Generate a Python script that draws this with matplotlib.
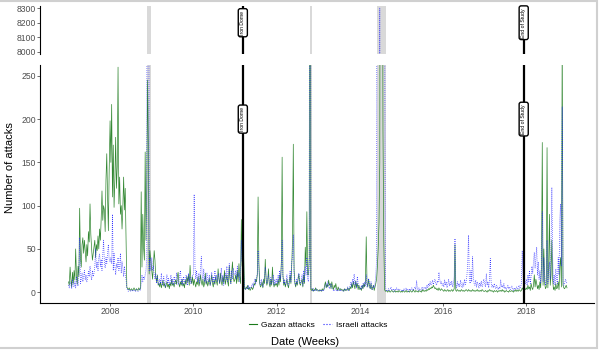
import numpy as np
import pandas as pd
import matplotlib
matplotlib.use("Agg")
import matplotlib.pyplot as plt
import matplotlib.dates as mdates
from matplotlib.lines import Line2D
from matplotlib.patches import Rectangle

plt.rcParams['font.family'] = ['Liberation Sans', 'DejaVu Sans']

# weekly attack counts, 52 weeks per year
gazan_2007 = [12, 8, 29, 15, 6, 23, 10, 25, 14, 50,
              20, 9, 30, 18, 97, 40, 29, 55, 63, 45,
              60, 48, 35, 55, 42, 70, 58, 102, 67, 50,
              37, 45, 52, 60, 40, 55, 48, 65, 50, 73,
              60, 85, 117, 83, 100, 95, 70, 130, 160, 110, 71, 140]
gazan_2008 = [198, 150, 217, 110, 170, 98, 130, 179, 120, 145,
              260, 102, 133, 90, 100, 73, 98, 133, 95, 120,
              60, 6, 4, 3, 5, 2, 3, 4, 2, 3,
              5, 3, 2, 4, 3, 2, 5, 3, 4, 116,
              29, 90, 52, 37, 162, 60, 120, 245, 170, 21, 48, 37]
gazan_2009 = [25, 15, 30, 48, 37, 17, 12, 20, 8, 10,
              6, 12, 5, 9, 14, 7, 10, 5, 8, 12,
              6, 9, 4, 11, 7, 15, 8, 10, 6, 12,
              14, 9, 18, 23, 10, 6, 12, 8, 15, 7,
              10, 5, 14, 9, 18, 12, 20, 8, 31, 14, 10, 18]
gazan_2010 = [8, 15, 10, 6, 12, 9, 18, 7, 11, 20,
              12, 8, 15, 6, 10, 22, 9, 13, 7, 11,
              16, 8, 12, 20, 10, 6, 14, 9, 18, 12,
              8, 27, 15, 10, 22, 12, 8, 18, 11, 25,
              9, 14, 20, 12, 7, 30, 15, 10, 22, 35, 18, 12]
gazan_2011 = [15, 20, 10, 25, 12, 33, 18, 10, 84, 30,
              190, 40, 5, 3, 6, 4, 8, 3, 5, 2,
              4, 6, 3, 5, 10, 8, 15, 12, 20, 110,
              35, 10, 6, 8, 12, 5, 15, 10, 38, 15,
              8, 12, 27, 10, 6, 15, 8, 29, 12, 6, 10, 8]
gazan_2012 = [10, 6, 15, 8, 20, 12, 35, 156, 20, 8,
              12, 6, 10, 15, 8, 5, 12, 20, 10, 30,
              60, 171, 25, 10, 6, 12, 8, 15, 21, 10,
              8, 12, 15, 6, 20, 10, 52, 30, 93, 20,
              20, 40, 1200, 3, 2, 4, 1, 3, 2, 5, 2, 3]
gazan_2013 = [2, 1, 3, 2, 1, 4, 2, 3, 8, 12,
              5, 9, 6, 14, 8, 10, 4, 12, 6, 3,
              8, 5, 10, 4, 2, 6, 3, 2, 4, 3,
              2, 3, 1, 4, 2, 3, 2, 5, 3, 2,
              6, 4, 10, 5, 12, 8, 4, 13, 6, 10, 3, 8]
gazan_2014 = [3, 5, 2, 8, 4, 10, 6, 12, 64, 10,
              6, 15, 8, 4, 10, 3, 5, 8, 2, 6,
              10, 15, 30, 50, 80, 150, 900, 1800, 700, 187,
              60, 3, 1, 2, 1, 0, 2, 1, 0, 1,
              2, 1, 0, 1, 2, 0, 1, 1, 0, 2, 1, 0]
gazan_2015 = [1, 0, 2, 1, 0, 1, 2, 0, 1, 1,
              0, 2, 1, 0, 1, 3, 1, 0, 2, 1,
              1, 0, 2, 1, 1, 0, 3, 1, 2, 1,
              2, 1, 3, 2, 4, 3, 5, 4, 6, 5,
              8, 6, 4, 5, 3, 4, 2, 5, 3, 2, 4, 3]
gazan_2016 = [2, 1, 3, 2, 1, 2, 3, 1, 2, 1,
              2, 3, 1, 2, 4, 55, 2, 1, 3, 2,
              1, 2, 1, 3, 2, 1, 2, 1, 2, 3,
              2, 1, 3, 2, 1, 2, 1, 3, 2, 1,
              2, 1, 2, 3, 1, 2, 1, 2, 1, 3, 2, 1]
gazan_2017 = [1, 2, 1, 0, 2, 1, 3, 2, 1, 2,
              1, 0, 2, 1, 1, 2, 0, 1, 2, 1,
              2, 1, 3, 1, 2, 0, 1, 2, 1, 1,
              0, 2, 1, 1, 2, 1, 0, 2, 1, 3,
              1, 2, 1, 3, 2, 1, 2, 5, 3, 2, 4, 3]
gazan_2018 = [5, 3, 8, 4, 6, 2, 10, 5, 3, 8,
              20, 6, 15, 10, 4, 8, 3, 12, 5, 30,
              173, 8, 50, 10, 4, 6, 167, 5, 30, 90,
              8, 20, 60, 15, 3, 6, 2, 10, 4, 5,
              12, 3, 30, 40, 6, 300, 8, 5, 4, 6, 8, 5]

israeli_2007 = [8, 5, 12, 10, 4, 15, 8, 6, 12, 5,
                18, 10, 7, 20, 63, 10, 15, 22, 12, 18,
                25, 14, 20, 12, 16, 24, 18, 30, 20, 14,
                25, 18, 22, 30, 50, 28, 35, 25, 40, 44,
                30, 38, 25, 44, 60, 35, 28, 40, 33, 45, 55, 38]
israeli_2008 = [35, 40, 33, 90, 25, 45, 30, 20, 33, 28,
                40, 25, 30, 45, 22, 35, 28, 18, 30, 20,
                15, 5, 2, 1, 3, 2, 1, 2, 3, 1,
                2, 2, 1, 3, 2, 1, 2, 3, 2, 10,
                20, 12, 18, 15, 20, 25, 40, 1500, 900, 25, 40, 25]
israeli_2009 = [40, 25, 30, 20, 15, 22, 10, 18, 12, 8,
                15, 10, 22, 8, 12, 18, 10, 6, 14, 20,
                10, 16, 8, 12, 20, 10, 15, 8, 18, 12,
                10, 22, 15, 8, 12, 20, 25, 10, 15, 8,
                18, 12, 10, 20, 15, 8, 22, 12, 18, 10, 15, 20]
israeli_2010 = [20, 113, 30, 15, 25, 12, 18, 22, 10, 28,
                41, 20, 15, 27, 12, 18, 10, 22, 15, 12,
                20, 8, 15, 23, 12, 18, 10, 25, 14, 20,
                12, 18, 22, 10, 15, 28, 12, 20, 8, 15,
                22, 15, 30, 12, 20, 33, 18, 10, 25, 15, 28, 20]
israeli_2011 = [20, 25, 15, 30, 18, 22, 12, 28, 60, 35,
                115, 20, 5, 3, 4, 6, 3, 8, 4, 6,
                5, 8, 10, 6, 12, 15, 10, 18, 20, 48,
                25, 12, 8, 15, 10, 6, 12, 18, 29, 20,
                10, 15, 20, 12, 8, 17, 10, 12, 20, 8, 15, 10]
israeli_2012 = [15, 10, 20, 12, 25, 15, 30, 60, 18, 10,
                15, 8, 12, 20, 10, 8, 15, 25, 12, 35,
                40, 66, 20, 12, 8, 15, 10, 18, 22, 12,
                10, 15, 20, 8, 25, 12, 30, 20, 40, 15,
                12, 30, 1500, 5, 3, 2, 4, 1, 3, 2, 4, 2]
israeli_2013 = [1, 2, 1, 3, 2, 1, 3, 2, 5, 8,
                10, 6, 12, 8, 4, 7, 10, 5, 3, 2,
                3, 2, 4, 2, 1, 3, 2, 4, 2, 3,
                2, 1, 3, 2, 4, 2, 3, 6, 2, 4,
                8, 12, 6, 15, 10, 21, 8, 12, 5, 18, 10, 6]
israeli_2014 = [5, 3, 8, 4, 10, 6, 12, 8, 20, 6,
                10, 16, 8, 4, 12, 6, 3, 8, 5, 10,
                20, 37, 1200, 3000, 5000, 8300, 4000, 2500, 1500, 1000,
                700, 400, 5, 3, 1, 2, 4, 2, 3, 6,
                3, 2, 4, 1, 3, 2, 5, 3, 2, 4, 3, 2]
israeli_2015 = [2, 3, 1, 4, 2, 3, 5, 2, 3, 1,
                4, 2, 3, 5, 2, 3, 4, 6, 3, 13,
                4, 2, 5, 3, 2, 4, 6, 3, 5, 4,
                6, 3, 8, 5, 10, 7, 12, 8, 10, 14,
                9, 12, 15, 10, 8, 13, 11, 23, 15, 10, 12, 8]
israeli_2016 = [10, 6, 14, 8, 12, 5, 9, 15, 7, 11,
                8, 13, 6, 10, 18, 62, 9, 5, 12, 7,
                10, 6, 14, 8, 5, 11, 7, 15, 9, 12,
                20, 35, 66, 15, 10, 25, 12, 41, 18, 10,
                8, 14, 6, 12, 9, 5, 11, 7, 13, 6, 9, 15]
israeli_2017 = [10, 6, 21, 8, 12, 5, 15, 39, 12, 6,
                8, 5, 10, 6, 4, 8, 5, 3, 6, 4,
                14, 6, 8, 5, 10, 4, 6, 3, 5, 8,
                4, 6, 3, 5, 7, 4, 2, 5, 3, 4,
                6, 3, 5, 8, 4, 6, 10, 48, 20, 8, 12, 10]
israeli_2018 = [15, 8, 20, 12, 25, 10, 18, 30, 22, 35,
                46, 28, 40, 52, 20, 35, 15, 25, 10, 30,
                93, 12, 40, 20, 8, 15, 60, 10, 25, 35,
                15, 50, 121, 40, 10, 20, 8, 27, 15, 10,
                40, 20, 85, 102, 30, 214, 12, 8, 10, 15, 12, 10]

years = list(range(2007, 2019))
gazan = gazan_2007 + gazan_2008 + gazan_2009 + gazan_2010 + gazan_2011 + gazan_2012 + \
        gazan_2013 + gazan_2014 + gazan_2015 + gazan_2016 + gazan_2017 + gazan_2018
israeli = israeli_2007 + israeli_2008 + israeli_2009 + israeli_2010 + israeli_2011 + israeli_2012 + \
          israeli_2013 + israeli_2014 + israeli_2015 + israeli_2016 + israeli_2017 + israeli_2018
weeks = pd.DatetimeIndex(np.concatenate(
    [pd.date_range(f'{y}-01-01', periods=52, freq='7D').values for y in years]))

# operations (grey bands) and events (vertical lines)
op_start = ['2008-11-23', '2012-10-18', '2014-06-03']
op_end = ['2008-12-21', '2012-11-04', '2014-08-18']
event_dates = ['2011-03-11', '2017-12-09']
event_names = ['Iron Dome', 'End of Study']

green = '#1b7a1b'
blue = '#1f1fff'

fig = plt.figure(figsize=(6, 3.52), dpi=100)
W, H = 600, 352
ax_top = fig.add_axes([40 / W, 1 - 54 / H, 554 / W, 48 / H])
ax_bot = fig.add_axes([40 / W, 1 - 303 / H, 554 / W, 238 / H])

for ax in (ax_top, ax_bot):
    for s, e in zip(op_start, op_end):
        ax.axvspan(pd.Timestamp(s), pd.Timestamp(e), color='#d9d9d9', lw=0, zorder=1)
    ax.plot(weeks, gazan, color=green, lw=0.5, alpha=0.9, zorder=2)
    ax.plot(weeks, israeli, color=blue, lw=0.55, ls=':', alpha=0.9, zorder=3)
    for d in event_dates:
        ax.axvline(pd.Timestamp(d), color='black', lw=1.6, zorder=4)
    ax.set_xlim(pd.Timestamp('2006-04-26'), pd.Timestamp('2019-08-18'))
    ax.spines['top'].set_visible(False)
    ax.spines['right'].set_visible(False)
    ax.spines['left'].set_linewidth(0.8)
    ax.spines['bottom'].set_linewidth(0.8)
    ax.tick_params(length=2, width=0.5, color='#333333', labelcolor='#4d4d4d',
                   labelsize=6.2, pad=1)

ax_top.set_ylim(7985, 8315)
ax_top.set_yticks([8000, 8100, 8200, 8300])
ax_top.spines['bottom'].set_visible(False)
ax_top.set_xticks([])

ax_bot.set_ylim(-12.5, 262.5)
ax_bot.set_yticks([0, 50, 100, 150, 200, 250])
ax_bot.xaxis.set_major_locator(mdates.YearLocator(2))
ax_bot.xaxis.set_major_formatter(mdates.DateFormatter('%Y'))

box = dict(boxstyle='round,pad=0.4', fc='white', ec='black', lw=1.0)
for d, name in zip(event_dates, event_names):
    ax_top.text(pd.Timestamp(d), 8200, name, rotation=90, fontsize=3.7,
                ha='center', va='center', bbox=box, zorder=5)
    ax_bot.text(pd.Timestamp(d), 200, name, rotation=90, fontsize=3.7,
                ha='center', va='center', bbox=box, zorder=5)

fig.text(10 / W, 1 - 168 / H, 'Number of attacks', rotation=90, fontsize=8,
         ha='center', va='center')
fig.text(305 / W, 1 - 342 / H, 'Date (Weeks)', fontsize=8, ha='center', va='center')

handles = [Line2D([], [], color=green, lw=0.8),
           Line2D([], [], color=blue, lw=0.8, ls=':')]
fig.legend(handles, ['Gazan attacks', 'Israeli attacks'], loc='center',
           bbox_to_anchor=(318 / W, 1 - 325 / H), ncol=2, frameon=False,
           fontsize=6, handlelength=1.0, handletextpad=0.5, columnspacing=1.0)

fig.patches.append(Rectangle((-0.01, 1 - 348 / H), 597 / W + 0.01, 347 / H,
                             transform=fig.transFigure, fill=False,
                             ec='#d0d0d0', lw=1.5))

fig.savefig('out.png', dpi=100)
